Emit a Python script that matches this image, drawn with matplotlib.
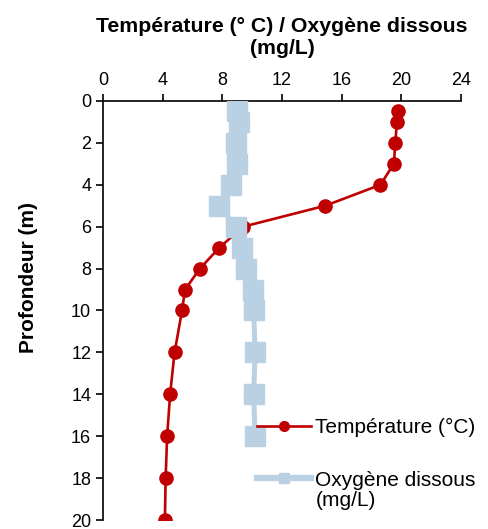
import matplotlib
matplotlib.use('Agg')
import matplotlib.pyplot as plt

plt.rcParams['font.family'] = ['Liberation Sans', 'DejaVu Sans']

# profondeurs (m)
prof_temp = [0.5, 1, 2, 3, 4, 5, 6, 7, 8, 9, 10, 12, 14, 16, 18, 20]
temperature = [19.8, 19.7, 19.6, 19.5, 18.6, 14.9, 9.4, 7.8, 6.5, 5.5, 5.3, 4.8, 4.5, 4.3, 4.2, 4.15]

prof_oxy = [0.5, 1, 2, 3, 4, 5, 6, 7, 8, 9, 10, 12, 14, 16]
oxygene = [9.0, 9.1, 8.9, 9.0, 8.6, 7.8, 8.9, 9.3, 9.6, 10.05, 10.1, 10.2, 10.1, 10.2]

x_ticks = [0, 4, 8, 12, 16, 20, 24]
y_ticks = [0, 2, 4, 6, 8, 10, 12, 14, 16, 18, 20]

fig = plt.figure(figsize=(4.89, 5.29), dpi=100)
ax = fig.add_axes([0.2106, 0.017, 0.7321, 0.7921])

ax.plot(temperature, prof_temp, '-o', color='#C00000', lw=1.9, ms=9.5,
        label='Température (°C)', zorder=3)
ax.plot(oxygene, prof_oxy, '-s', color='#B9D1E3', lw=3.6, ms=14,
        label='Oxygène dissous', zorder=4)

ax.set_xlim(0, 24)
ax.set_ylim(20, 0)
ax.set_xticks(x_ticks)
ax.set_yticks(y_ticks)
ax.xaxis.tick_top()
ax.xaxis.set_label_position('top')
ax.tick_params(axis='both', labelsize=13, direction='out', length=5, width=1.2)
for s in ['right', 'bottom']:
    ax.spines[s].set_visible(False)
for s in ['left', 'top']:
    ax.spines[s].set_linewidth(1.2)

ax.set_xlabel('Température (° C) / Oxygène dissous\n(mg/L)', fontsize=15.3,
              fontweight='bold', labelpad=13, linespacing=1.2)
ax.set_ylabel('Profondeur (m)', fontsize=15, fontweight='bold')
ax.yaxis.set_label_coords(-0.181, 0.578)

# légende
leg = ax.legend(loc='upper left', bbox_to_anchor=(0.407, 0.2625), frameon=False,
                fontsize=15, handlelength=2.6, handletextpad=0.2, labelspacing=1.6,
                borderaxespad=0)
h_temp, h_oxy = leg.legend_handles
h_temp.set_markersize(7)
h_oxy.set_markersize(6.5)
h_oxy.set_linewidth(4.5)
fig.canvas.draw()
ax.annotate('(mg/L)', xy=(0, 0), xycoords=leg.get_texts()[1], xytext=(0, -1),
            textcoords='offset points', ha='left', va='top', fontsize=15)

plt.savefig('out.png', dpi=100)
